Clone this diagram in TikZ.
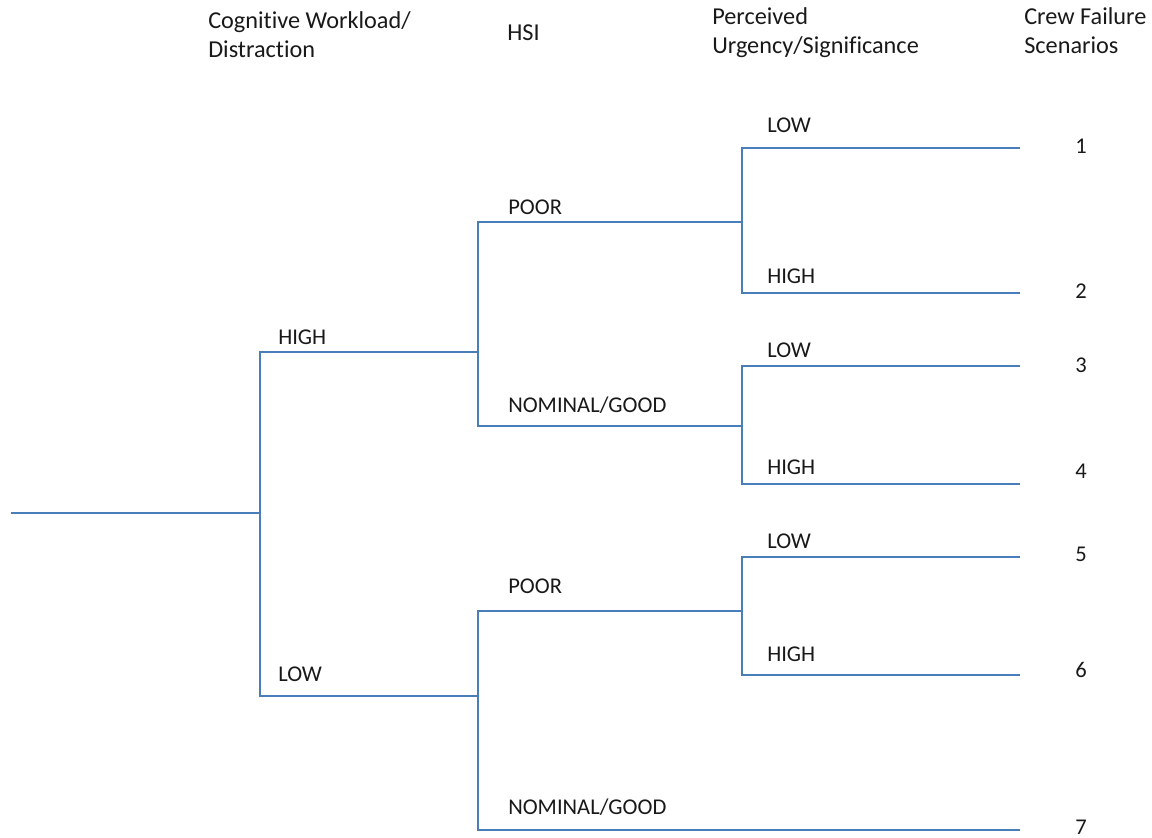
\documentclass[tikz,border=0pt]{standalone}
\usepackage{fontspec}
\setmainfont{Carlito}[Ligatures=NoCommon]
\begin{document}
\begin{tikzpicture}[x=0.75pt,y=-0.75pt,
  branch/.style={draw=branchblue,line width=2.1pt,line join=miter},
  header/.style={anchor=base west,inner sep=0pt,text=black!90,align=left,
    font=\fontsize{18.2}{21.75}\selectfont},
  lbl/.style={anchor=base west,inner sep=0pt,text=black!90,
    font=\fontsize{16.9}{20}\selectfont},
  num/.style={anchor=base,inner sep=0pt,text=black!90,
    font=\fontsize{16.9}{20}\selectfont},
  jn/.style={coordinate}]
\definecolor{branchblue}{HTML}{4A7EBB}
\useasboundingbox (0,0) rectangle (1152,838);

% column headers (anchored on the baseline of their last line)
\node[header] (hcw)  at (208,57.5) {Cognitive Workload/\\Distraction};
\node[header] (hhsi) at (507,41) {HSI};
\node[header] (hpus) at (712,54) {Perceived\\Urgency/Significance};
\node[header] (hcfs) at (1024,54) {Crew Failure\\Scenarios};

% junctions of the tree
\node[jn] (start) at (11,513) {};
\node[jn] (j0)    at (260,513) {};
\node[jn] (jh)    at (478,352) {};
\node[jn] (jl)    at (478,696) {};
\node[jn] (jhp)   at (742,222) {};
\node[jn] (jhn)   at (742,426) {};
\node[jn] (jlp)   at (742,611) {};
% leaves
\node[jn] (l1) at (1020,148) {};
\node[jn] (l2) at (1020,293) {};
\node[jn] (l3) at (1020,366) {};
\node[jn] (l4) at (1020,484) {};
\node[jn] (l5) at (1020,557) {};
\node[jn] (l6) at (1020,675) {};
\node[jn] (l7) at (1020,830) {};

% branches
\draw[branch] (start) -- (j0);
\draw[branch] (j0) |- (jh);
\draw[branch] (j0) |- (jl);
\draw[branch] (jh) |- (jhp);
\draw[branch] (jh) |- (jhn);
\draw[branch] (jl) |- (jlp);
\draw[branch] (jl) |- (l7);
\draw[branch] (jhp) |- (l1);
\draw[branch] (jhp) |- (l2);
\draw[branch] (jhn) |- (l3);
\draw[branch] (jhn) |- (l4);
\draw[branch] (jlp) |- (l5);
\draw[branch] (jlp) |- (l6);

% branch labels
\node[lbl] (bh)   at (278,344) {HIGH};
\node[lbl] (bl)   at (278,681) {LOW};
\node[lbl] (bhp)  at (508,214) {POOR};
\node[lbl] (bhn)  at (508,412) {NOMINAL/GOOD};
\node[lbl] (blp)  at (508,593) {POOR};
\node[lbl] (bln)  at (508,814) {NOMINAL/GOOD};
\node[lbl] (u1)   at (767,133) {LOW};
\node[lbl] (u2)   at (767,283) {HIGH};
\node[lbl] (u3)   at (767,357) {LOW};
\node[lbl] (u4)   at (767,474) {HIGH};
\node[lbl] (u5)   at (767,548) {LOW};
\node[lbl] (u6)   at (767,661) {HIGH};

% scenario numbers
\node[num] (n1) at (1081,154) {1};
\node[num] (n2) at (1081,298) {2};
\node[num] (n3) at (1081,372) {3};
\node[num] (n4) at (1081,478) {4};
\node[num] (n5) at (1081,561) {5};
\node[num] (n6) at (1081,677) {6};
\node[num] (n7) at (1081,834) {7};
\end{tikzpicture}
\end{document}
